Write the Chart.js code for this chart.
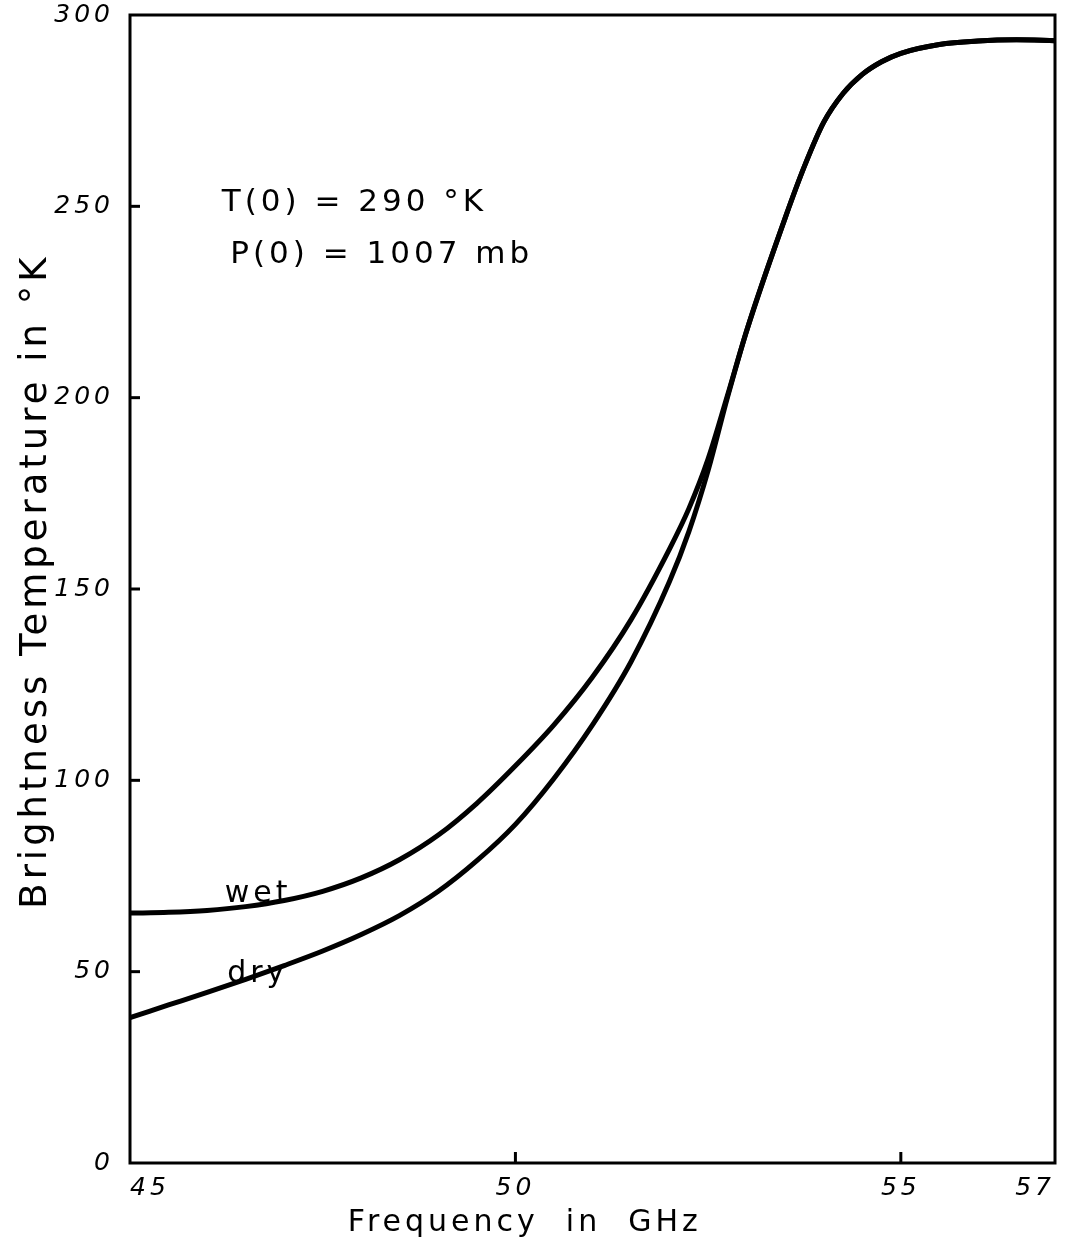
<!DOCTYPE html>
<html>
<head>
<meta charset="utf-8">
<script src="https://cdn.jsdelivr.net/npm/chart.js@4.4.1/dist/chart.umd.min.js"></script>
<style>
  html, body { margin: 0; padding: 0; background: #fff; }
  #wrap { width: 1073px; height: 1248px; position: relative; }
</style>
</head>
<body>
<div id="wrap"><canvas id="c" width="1073" height="1248"></canvas></div>
<script>
// ---- data ----
const freq = [45, 45.5, 46, 46.5, 47, 47.5, 48, 48.5, 49, 49.5, 50, 50.5, 51, 51.5, 52, 52.25, 52.5, 52.75, 53, 53.5, 53.75, 54, 54.25, 54.5, 54.75, 55, 55.5, 56, 56.5, 57];
const wetTb = [65.3, 65.5, 66, 67, 68.6, 71, 74.5, 79.3, 85.7, 94, 103.8, 114.5, 127, 142, 160.5, 171, 184, 200.5, 217.5, 247, 260.5, 272, 279.5, 284.5, 287.8, 290, 292.3, 293.2, 293.5, 293.3];
const dryTb = [38, 41.3, 44.6, 48, 51.6, 55.4, 59.7, 64.7, 71, 79, 88.5, 100.5, 114.5, 131, 152, 165, 181, 200, 217.5, 247, 260.5, 272, 279.5, 284.5, 287.8, 290, 292.3, 293.2, 293.5, 293.3];
const xTicks = [45, 50, 55, 57];
const yTicks = [0, 50, 100, 150, 200, 250, 300];
const seriesNames = ["wet", "dry"];
const noteLines = ["T(0) = 290 °K", "P(0) = 1007 mb"];
const xTitle = "Frequency  in  GHz";
const yTitle = "Brightness Temperature in °K";

const toPts = (ys) => freq.map((f, i) => ({ x: f, y: ys[i] }));
const FONT = "'DejaVu Sans', sans-serif";

const spacingPlugin = {
  id: 'spacing',
  beforeLayout(chart) { chart.ctx.letterSpacing = '4px'; },
  beforeDraw(chart) { chart.ctx.letterSpacing = '4px'; }
};

const framePlugin = {
  id: 'frame',
  afterDatasetsDraw(chart) {
    const { ctx, chartArea: a, scales } = chart;
    ctx.save();
    ctx.strokeStyle = '#000';
    ctx.lineWidth = 3;
    ctx.strokeRect(a.left, a.top, a.right - a.left, a.bottom - a.top);
    // inward ticks
    yTicks.slice(1, -1).forEach(v => {
      const y = scales.y.getPixelForValue(v);
      ctx.beginPath(); ctx.moveTo(a.left, y); ctx.lineTo(a.left + 10, y); ctx.stroke();
    });
    xTicks.slice(1, -1).forEach(v => {
      const x = scales.x.getPixelForValue(v);
      ctx.beginPath(); ctx.moveTo(x, a.bottom); ctx.lineTo(x, a.bottom - 11); ctx.stroke();
    });
    // annotations
    ctx.fillStyle = '#000';
    ctx.textBaseline = 'alphabetic';
    ctx.textAlign = 'left';
    ctx.letterSpacing = '4px';
    ctx.font = "31px " + FONT;
    ctx.fillText(noteLines[0], scales.x.getPixelForValue(46.19), scales.y.getPixelForValue(248.8));
    ctx.fillText(noteLines[1], scales.x.getPixelForValue(46.3), scales.y.getPixelForValue(235.2));
    ctx.font = "30px " + FONT;
    ctx.fillText(seriesNames[0], scales.x.getPixelForValue(46.23), scales.y.getPixelForValue(68.2));
    ctx.fillText(seriesNames[1], scales.x.getPixelForValue(46.26), scales.y.getPixelForValue(47.2));
    ctx.restore();
  }
};

new Chart(document.getElementById('c'), {
  type: 'line',
  data: {
    datasets: [
      { label: seriesNames[0], data: toPts(wetTb), borderColor: '#000', borderWidth: 5, pointRadius: 0, fill: false, cubicInterpolationMode: 'monotone' },
      { label: seriesNames[1], data: toPts(dryTb), borderColor: '#000', borderWidth: 5, pointRadius: 0, fill: false, cubicInterpolationMode: 'monotone' }
    ]
  },
  options: {
    responsive: false,
    animation: false,
    devicePixelRatio: 1,
    layout: { padding: { top: 15, right: 18, left: 0, bottom: 0 } },
    plugins: { legend: { display: false }, tooltip: { enabled: false } },
    scales: {
      x: {
        type: 'linear', min: 45, max: 57,
        afterBuildTicks: (s) => { s.ticks = xTicks.map(v => ({ value: v })); },
        afterFit: (s) => { s.height = 85; s.paddingLeft = 0; s.paddingRight = 0; },
        grid: { display: false, drawTicks: false },
        border: { display: false },
        ticks: { color: '#000', padding: 10, align: 'inner', font: { family: FONT, size: 25, style: 'italic' }, maxRotation: 0, autoSkip: false },
        title: { display: true, text: xTitle + "          ", color: '#000', font: { family: FONT, size: 30 }, padding: { top: 4, bottom: 7 } }
      },
      y: {
        type: 'linear', min: 0, max: 300,
        afterBuildTicks: (s) => { s.ticks = yTicks.map(v => ({ value: v })); },
        afterFit: (s) => { s.width = 130; s.paddingTop = 0; s.paddingBottom = 0; },
        grid: { display: false, drawTicks: false },
        border: { display: false },
        ticks: { color: '#000', padding: 16, align: 'inner', font: { family: FONT, size: 25, style: 'italic' } },
        title: { display: true, text: " " + yTitle, color: '#000', font: { family: FONT, size: 37 }, padding: { top: 14, bottom: 0 } }
      }
    }
  },
  plugins: [spacingPlugin, framePlugin]
});
</script>
</body>
</html>
